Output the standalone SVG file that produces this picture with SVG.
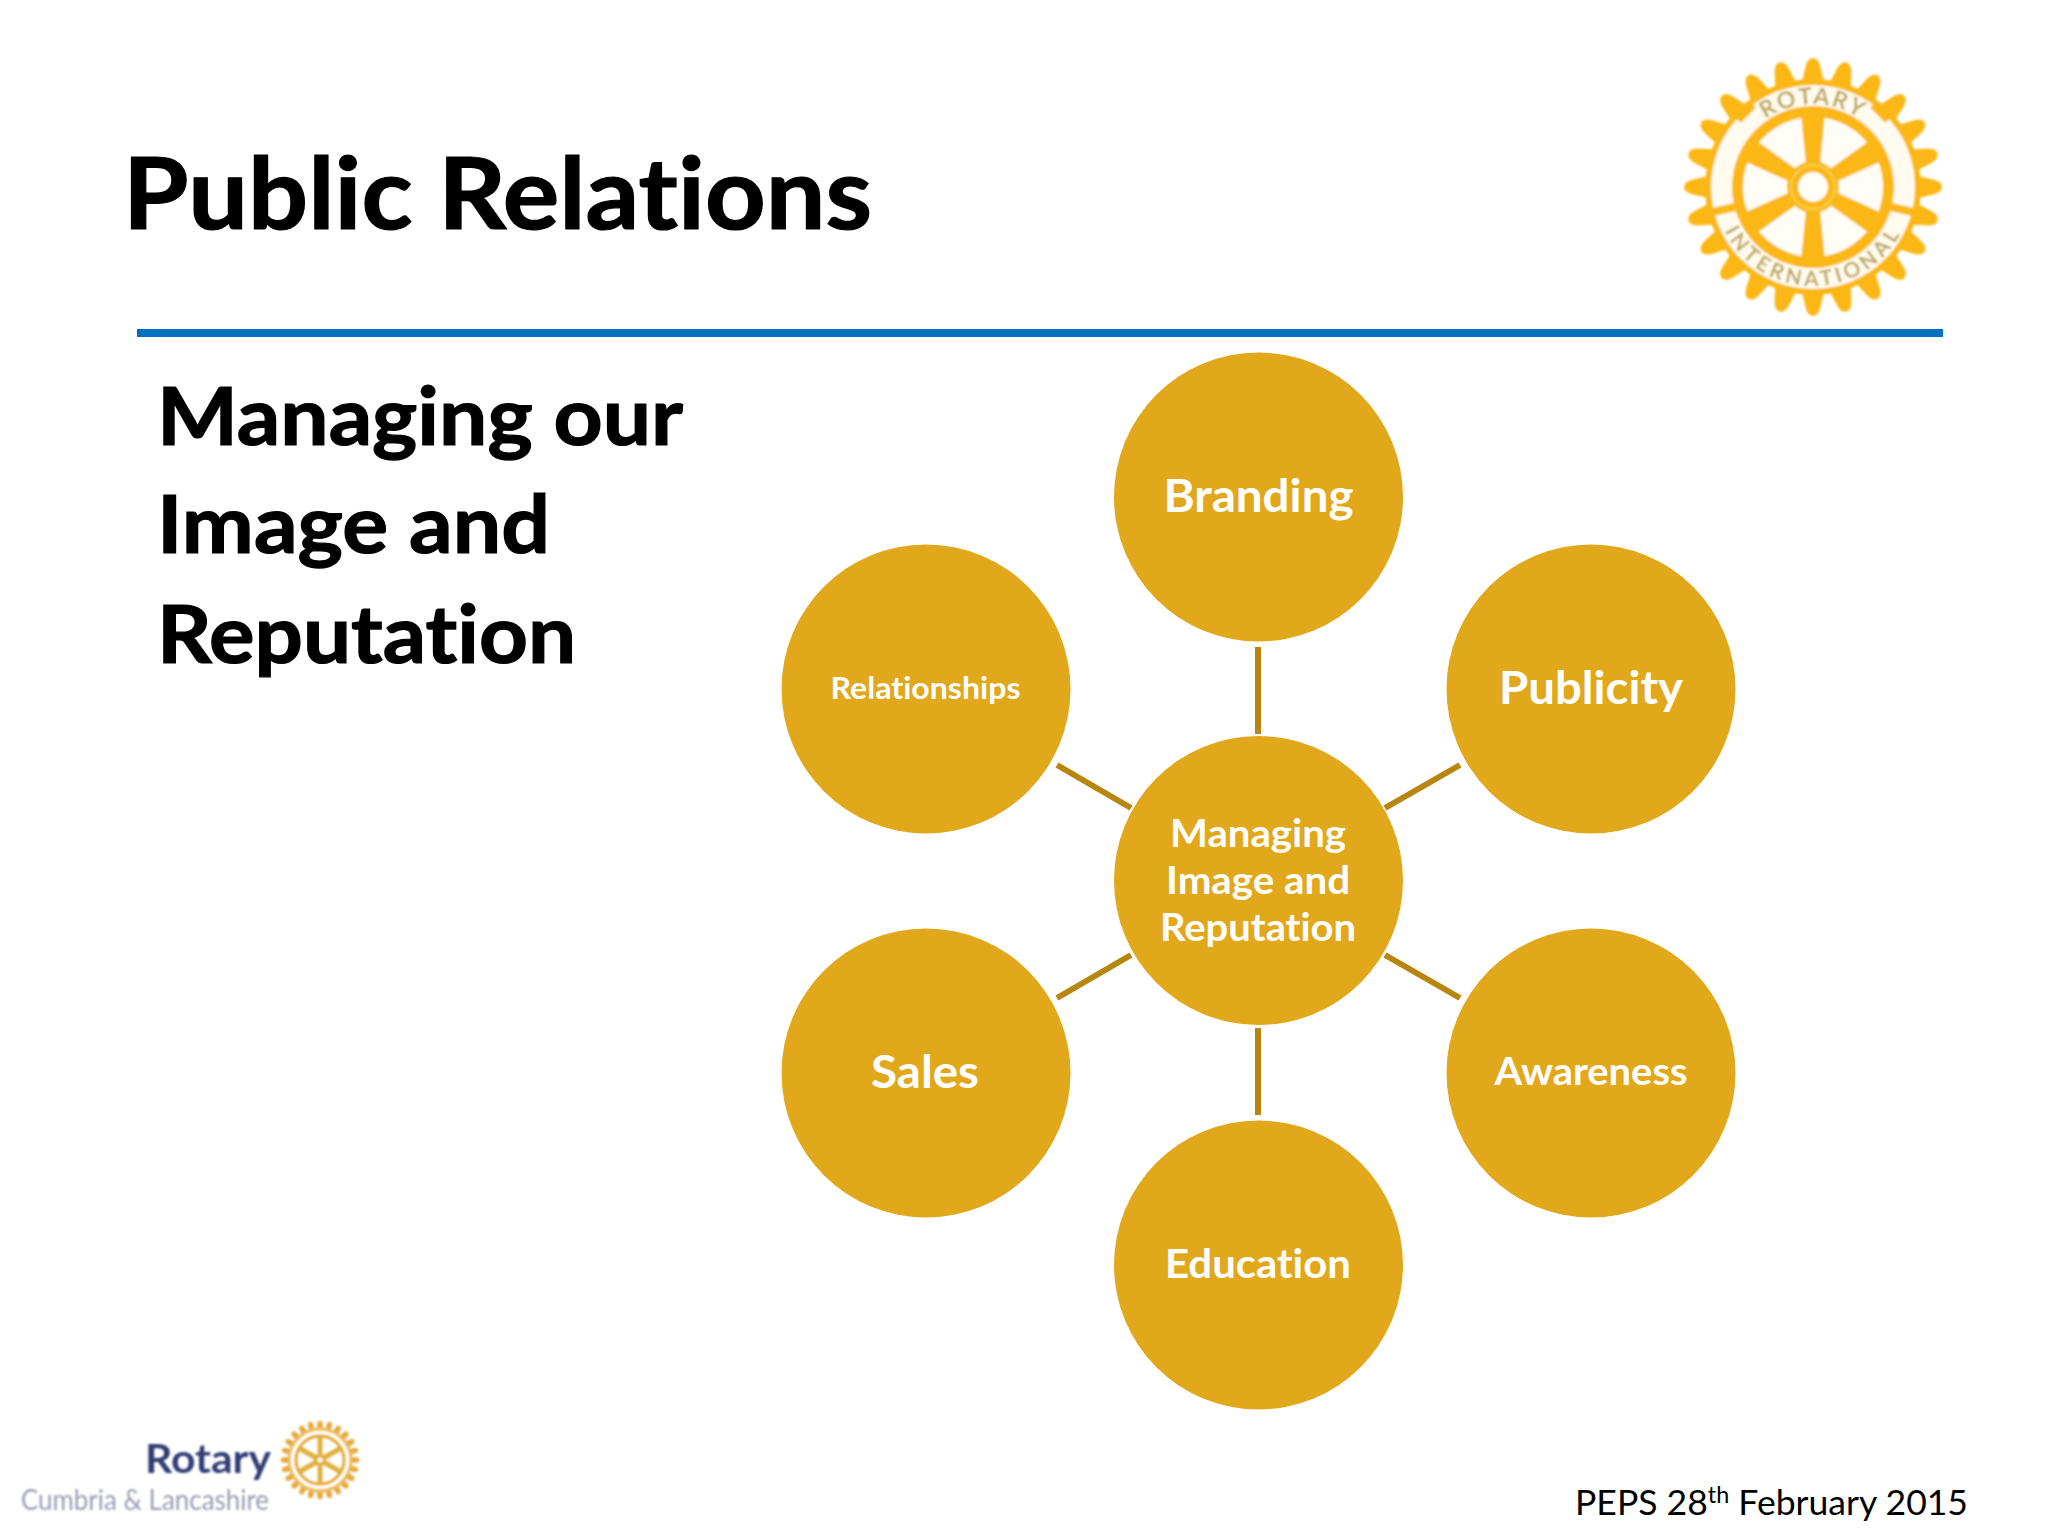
<svg xmlns="http://www.w3.org/2000/svg" xmlns:xlink="http://www.w3.org/1999/xlink" width="2048" height="1536" viewBox="0 0 2048 1536">
<style>
text{font-family:"Lato","Liberation Sans",sans-serif;font-variant-ligatures:none}
.h{font-weight:700;fill:#000;stroke:#000;stroke-width:1.200}
.n circle{fill:#E2A81C}
.n text{font-weight:700;fill:#fff;text-anchor:middle}
.c line{stroke:#B8860F;stroke-width:6}
.g{fill:#FBB714}
</style>
<defs>
<filter id="soft" x="-5%" y="-5%" width="110%" height="110%"><feGaussianBlur stdDeviation="1"/></filter>
<path id="tooth" d="M-12 -100L-8 -118Q-6 -129 0 -129Q6 -129 8 -118L12 -100Z"/>
<path id="spoke" d="M-7 -22L-12 -74H12L7 -22Z"/>
<path id="tsmall" d="M-3 -31L-2.500 -38Q0 -41 2.500 -38L3 -31Z"/>
<path id="arcTop" d="M-83 0A83 83 0 0 1 83 0"/>
<path id="arcBot" d="M-99 0A99 99 0 0 0 99 0"/>
</defs>
<rect width="2048" height="1536" fill="#fff"/>
<text class="h" x="123" y="229" font-size="100" textLength="749" lengthAdjust="spacingAndGlyphs">Public Relations</text>
<rect x="137" y="329" width="1806" height="8" fill="#0070C0"/>
<g id="logo" transform="translate(1813 187)" filter="url(#soft)">
<g class="g">
<use xlink:href="#tooth"/><use xlink:href="#tooth" transform="rotate(15)"/><use xlink:href="#tooth" transform="rotate(30)"/><use xlink:href="#tooth" transform="rotate(45)"/><use xlink:href="#tooth" transform="rotate(60)"/><use xlink:href="#tooth" transform="rotate(75)"/><use xlink:href="#tooth" transform="rotate(90)"/><use xlink:href="#tooth" transform="rotate(105)"/><use xlink:href="#tooth" transform="rotate(120)"/><use xlink:href="#tooth" transform="rotate(135)"/><use xlink:href="#tooth" transform="rotate(150)"/><use xlink:href="#tooth" transform="rotate(165)"/><use xlink:href="#tooth" transform="rotate(180)"/><use xlink:href="#tooth" transform="rotate(195)"/><use xlink:href="#tooth" transform="rotate(210)"/><use xlink:href="#tooth" transform="rotate(225)"/><use xlink:href="#tooth" transform="rotate(240)"/><use xlink:href="#tooth" transform="rotate(255)"/><use xlink:href="#tooth" transform="rotate(270)"/><use xlink:href="#tooth" transform="rotate(285)"/><use xlink:href="#tooth" transform="rotate(300)"/><use xlink:href="#tooth" transform="rotate(315)"/><use xlink:href="#tooth" transform="rotate(330)"/><use xlink:href="#tooth" transform="rotate(345)"/>
<circle r="108"/>
</g>
<circle r="102" fill="#FFFBEF"/>
<circle r="81" class="g"/>
<circle r="70" fill="#FFFDF6"/>
<g stroke="#FBB714" stroke-width="8">
<line x1="-75" y1="-67" x2="-60" y2="-82"/><line x1="75" y1="-67" x2="60" y2="-82"/>
<line x1="-100" y1="25" x2="-78" y2="20"/><line x1="100" y1="25" x2="78" y2="20"/>
</g>
<g class="g">
<use xlink:href="#spoke"/><use xlink:href="#spoke" transform="rotate(60)"/><use xlink:href="#spoke" transform="rotate(120)"/><use xlink:href="#spoke" transform="rotate(180)"/><use xlink:href="#spoke" transform="rotate(240)"/><use xlink:href="#spoke" transform="rotate(300)"/>
<circle r="26"/>
</g>
<circle r="22" fill="none" stroke="#F4D24A" stroke-width="2"/>
<circle r="15" fill="#FFFDF5"/>
<text font-size="23" fill="#BFA85E" font-weight="700" letter-spacing="2" text-anchor="middle"><textPath xlink:href="#arcTop" startOffset="50%">ROTARY</textPath></text>
<text font-size="21" fill="#BFA85E" font-weight="700" letter-spacing="4" text-anchor="middle"><textPath xlink:href="#arcBot" startOffset="50%">INTERNATIONAL</textPath></text>
</g>
<g id="subtitle">
<text class="h" x="157" y="445" font-size="80" textLength="526" lengthAdjust="spacingAndGlyphs">Managing our</text>
<text class="h" x="157" y="553" font-size="80" textLength="393" lengthAdjust="spacingAndGlyphs">Image and</text>
<text class="h" x="157" y="663" font-size="80" textLength="419" lengthAdjust="spacingAndGlyphs">Reputation</text>
</g>
<g id="connectors" class="c">
<line x1="1258" y1="647" x2="1258" y2="734"/>
<line x1="1258" y1="1028" x2="1258" y2="1115"/>
<line x1="1385" y1="808" x2="1460" y2="765"/>
<line x1="1385" y1="955" x2="1460" y2="998"/>
<line x1="1131" y1="808" x2="1057" y2="765"/>
<line x1="1131" y1="955" x2="1057" y2="998"/>
</g>
<g id="center" class="n"><circle cx="1258.500" cy="880.500" r="144.500"/>
<text x="1258" y="847" font-size="39" textLength="176" lengthAdjust="spacingAndGlyphs">Managing</text>
<text x="1258" y="894" font-size="39" textLength="184" lengthAdjust="spacingAndGlyphs">Image and</text>
<text x="1258" y="941" font-size="39" textLength="196" lengthAdjust="spacingAndGlyphs">Reputation</text></g>
<g id="branding" class="n"><circle cx="1258.500" cy="497" r="144.500"/><text x="1258.500" y="512" font-size="45" textLength="190" lengthAdjust="spacingAndGlyphs">Branding</text></g>
<g id="publicity" class="n"><circle cx="1591" cy="689" r="144.500"/><text x="1591" y="704" font-size="45" textLength="184" lengthAdjust="spacingAndGlyphs">Publicity</text></g>
<g id="awareness" class="n"><circle cx="1591" cy="1073" r="144.500"/><text x="1591" y="1085" font-size="38" textLength="193" lengthAdjust="spacingAndGlyphs">Awareness</text></g>
<g id="education" class="n"><circle cx="1258.500" cy="1265" r="144.500"/><text x="1258" y="1278" font-size="41" textLength="186" lengthAdjust="spacingAndGlyphs">Education</text></g>
<g id="sales" class="n"><circle cx="926" cy="1073" r="144.500"/><text x="925" y="1088" font-size="45" textLength="108" lengthAdjust="spacingAndGlyphs">Sales</text></g>
<g id="relationships" class="n"><circle cx="926" cy="689" r="144.500"/><text x="925.500" y="699" font-size="31" textLength="190" lengthAdjust="spacingAndGlyphs">Relationships</text></g>
<g id="footer-logo" filter="url(#soft)">
<text x="145" y="1473" font-size="40" font-weight="700" fill="#333C75" textLength="126" lengthAdjust="spacingAndGlyphs">Rotary</text>
<text x="21" y="1510" font-size="28" fill="#9A9EB0" textLength="248" lengthAdjust="spacingAndGlyphs">Cumbria &amp; Lancashire</text>
<g transform="translate(320 1460)">
<g fill="#E8A93A"><use xlink:href="#tsmall"/><use xlink:href="#tsmall" transform="rotate(15)"/><use xlink:href="#tsmall" transform="rotate(30)"/><use xlink:href="#tsmall" transform="rotate(45)"/><use xlink:href="#tsmall" transform="rotate(60)"/><use xlink:href="#tsmall" transform="rotate(75)"/><use xlink:href="#tsmall" transform="rotate(90)"/><use xlink:href="#tsmall" transform="rotate(105)"/><use xlink:href="#tsmall" transform="rotate(120)"/><use xlink:href="#tsmall" transform="rotate(135)"/><use xlink:href="#tsmall" transform="rotate(150)"/><use xlink:href="#tsmall" transform="rotate(165)"/><use xlink:href="#tsmall" transform="rotate(180)"/><use xlink:href="#tsmall" transform="rotate(195)"/><use xlink:href="#tsmall" transform="rotate(210)"/><use xlink:href="#tsmall" transform="rotate(225)"/><use xlink:href="#tsmall" transform="rotate(240)"/><use xlink:href="#tsmall" transform="rotate(255)"/><use xlink:href="#tsmall" transform="rotate(270)"/><use xlink:href="#tsmall" transform="rotate(285)"/><use xlink:href="#tsmall" transform="rotate(300)"/><use xlink:href="#tsmall" transform="rotate(315)"/><use xlink:href="#tsmall" transform="rotate(330)"/><use xlink:href="#tsmall" transform="rotate(345)"/></g>
<circle r="31" fill="none" stroke="#EDBB60" stroke-width="3"/>
<circle r="24" fill="none" stroke="#E8A93A" stroke-width="3"/>
<g stroke="#E0B040" stroke-width="5"><line y1="-24" y2="24"/><line x1="-21" y1="-12" x2="21" y2="12"/><line x1="-21" y1="12" x2="21" y2="-12"/></g>
<circle r="6" fill="#E0B040"/><circle r="2.500" fill="#fff"/>
</g>
</g>
<text id="footer" x="1575" y="1515" font-size="35" fill="#000" textLength="393" lengthAdjust="spacingAndGlyphs">PEPS 28<tspan font-size="23" dy="-12">th</tspan><tspan dy="12"> February 2015</tspan></text>
</svg>
